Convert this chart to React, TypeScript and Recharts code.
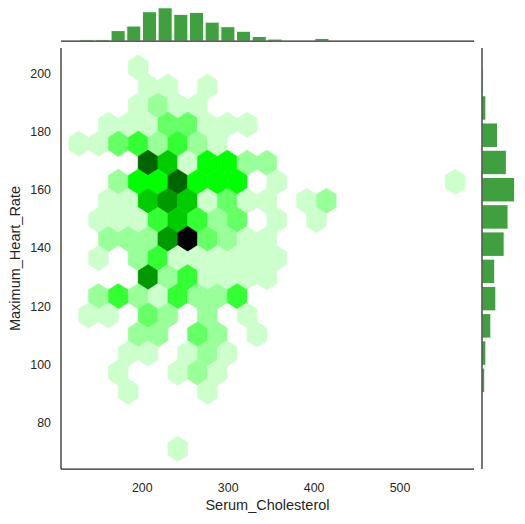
import { ScatterChart, Scatter, XAxis, YAxis, BarChart, Bar, ReferenceLine, Label } from 'recharts'

// hexbin grid: serum cholesterol 126..564, max heart rate 71..202, gridsize 19 x 10
const X_MIN = 126
const X_MAX = 564
const Y_MIN = 71
const Y_MAX = 202
const GRID_NX = 19
const GRID_NY = 10

const X_DOMAIN: [number, number] = [105.4, 586.1]
const Y_DOMAIN: [number, number] = [64.05, 208.7]
const xTicks = [200, 300, 400, 500]
const yTicks = [80, 100, 120, 140, 160, 180, 200]

// hex cells: half-step column / row index on the hexbin lattice, and point count
const hexCol = [
  6,
  7, 9, 13,
  6, 8, 10, 12,
  3, 5, 7, 9, 11, 13, 15, 17,
  0, 2, 4, 6, 8, 10, 12, 14,
  7, 9, 11, 13, 15, 17, 19,
  4, 6, 8, 10, 12, 14, 16, 20, 38,
  3, 5, 7, 9, 11, 13, 15, 17, 19, 23, 25,
  2, 4, 6, 8, 10, 12, 14, 16, 20, 24,
  3, 5, 7, 9, 11, 13, 15, 17, 19,
  2, 6, 8, 10, 12, 14, 16, 18, 20,
  7, 9, 11, 13, 15, 17, 19,
  2, 4, 6, 8, 10, 12, 14, 16,
  1, 3, 7, 9, 13, 17,
  6, 8, 12, 14, 18,
  5, 7, 11, 13, 15,
  4, 10, 12, 14,
  5, 13,
  10,
]
const hexRow = [
  20,
  19, 19, 19,
  18, 18, 18, 18,
  17, 17, 17, 17, 17, 17, 17, 17,
  16, 16, 16, 16, 16, 16, 16, 16,
  15, 15, 15, 15, 15, 15, 15,
  14, 14, 14, 14, 14, 14, 14, 14, 14,
  13, 13, 13, 13, 13, 13, 13, 13, 13, 13, 13,
  12, 12, 12, 12, 12, 12, 12, 12, 12, 12,
  11, 11, 11, 11, 11, 11, 11, 11, 11,
  10, 10, 10, 10, 10, 10, 10, 10, 10,
  9, 9, 9, 9, 9, 9, 9,
  8, 8, 8, 8, 8, 8, 8, 8,
  7, 7, 7, 7, 7, 7,
  6, 6, 6, 6, 6,
  5, 5, 5, 5, 5,
  4, 4, 4, 4,
  3, 3,
  0,
]
const hexCount = [
  2,
  2, 2, 2,
  2, 3, 2, 2,
  2, 2, 2, 4, 4, 2, 2, 2,
  2, 2, 4, 5, 3, 5, 3, 2,
  9, 7, 2, 6, 6, 3, 3,
  3, 6, 6, 9, 6, 6, 6, 2, 2,
  2, 2, 7, 8, 7, 2, 4, 2, 2, 2, 3,
  2, 2, 2, 5, 7, 5, 3, 4, 2, 2,
  3, 3, 3, 8, 11, 4, 3, 2, 2,
  2, 3, 5, 2, 2, 2, 2, 2, 2,
  8, 3, 5, 2, 2, 2, 2,
  3, 5, 3, 2, 5, 3, 3, 5,
  2, 2, 4, 3, 3, 2,
  3, 3, 4, 3, 2,
  2, 2, 2, 3, 2,
  2, 2, 3, 2,
  2, 2,
  2,
]
const MAX_COUNT = 11

// marginal histograms
const cholCounts = [2, 2, 16, 23, 45, 51, 41, 44, 29, 22, 15, 7, 3, 0, 0, 4, 0, 0, 0, 0, 0, 0, 0, 1]
const hrCounts = [1, 0, 5, 7, 16, 25, 23, 40, 47, 59, 44, 28, 7, 2]

const PLOT_LEFT = 61
const PLOT_RIGHT = 474
const PLOT_TOP = 48
const PLOT_BOTTOM = 469
const pxPerX = (PLOT_RIGHT - PLOT_LEFT) / (X_DOMAIN[1] - X_DOMAIN[0])
const pxPerY = (PLOT_BOTTOM - PLOT_TOP) / (Y_DOMAIN[1] - Y_DOMAIN[0])

const sx = (X_MAX - X_MIN) / GRID_NX
const sy = (Y_MAX - Y_MIN) / GRID_NY

const hexData = hexCol.map((c, i) => ({
  x: X_MIN + (c * sx) / 2,
  y: Y_MIN + (hexRow[i] * sy) / 2,
  count: hexCount[i],
}))

const cholBinW = (X_MAX - X_MIN) / cholCounts.length
const cholHist = cholCounts.map((count, i) => ({ mid: X_MIN + (i + 0.5) * cholBinW, count }))
const hrBinW = (Y_MAX - Y_MIN) / hrCounts.length
const hrHist = hrCounts.map((count, i) => ({ mid: Y_MIN + (i + 0.5) * hrBinW, count }))

const INK = '#262626'
const HIST = '#40a040'

function hexColor(count: number) {
  const l = 1 - (count - 1) / (MAX_COUNT - 1)
  return `hsl(120, 100%, ${(l * 100).toFixed(1)}%)`
}

function Hex(props: any) {
  const { cx, cy } = props
  const count = props.payload?.count ?? props.count
  const w = (sx * pxPerX) / 2
  const h = sy * pxPerY
  const pts = [
    [w, -h / 6],
    [w, h / 6],
    [0, h / 3],
    [-w, h / 6],
    [-w, -h / 6],
    [0, -h / 3],
  ]
    .map(([dx, dy]) => `${cx + dx},${cy + dy}`)
    .join(' ')
  const col = hexColor(count)
  return <polygon points={pts} fill={col} stroke={col} strokeWidth={0.5} />
}

export default function App() {
  return (
    <div
      style={{
        position: 'absolute',
        left: 0,
        top: 0,
        width: 525,
        height: 524,
        background: '#fff',
        fontFamily: '"Liberation Sans", Arial, sans-serif',
      }}
    >
      <div style={{ position: 'absolute', left: 0, top: 0 }}>
        <ScatterChart width={525} height={524} margin={{ top: PLOT_TOP, right: 525 - PLOT_RIGHT, bottom: 0, left: 0 }}>
          <XAxis
            type="number"
            dataKey="x"
            domain={X_DOMAIN}
            ticks={xTicks}
            height={524 - PLOT_BOTTOM}
            tickLine={false}
            tickMargin={8}
            axisLine={{ stroke: INK, strokeWidth: 1.25 }}
            tick={{ fill: INK, fontSize: 12.4 }}
          >
            <Label value="Serum_Cholesterol" position="insideBottom" offset={14} fill={INK} fontSize={14.5} />
          </XAxis>
          <YAxis
            type="number"
            dataKey="y"
            domain={Y_DOMAIN}
            ticks={yTicks}
            width={PLOT_LEFT}
            tickLine={false}
            tickMargin={4}
            axisLine={{ stroke: INK, strokeWidth: 1.25 }}
            tick={{ fill: INK, fontSize: 12.4 }}
          >
            <Label
              value="Maximum_Heart_Rate"
              angle={-90}
              position="insideLeft"
              offset={15}
              fill={INK}
              fontSize={14.5}
              style={{ textAnchor: 'middle' }}
            />
          </YAxis>
          <Scatter data={hexData} shape={Hex} isAnimationActive={false} />
        </ScatterChart>
      </div>

      <div style={{ position: 'absolute', left: 0, top: 0 }}>
        <BarChart
          width={525}
          height={44}
          data={cholHist}
          margin={{ top: 0, right: 525 - PLOT_RIGHT, bottom: 3, left: PLOT_LEFT }}
          barCategoryGap={0}
          barGap={0}
        >
          <XAxis type="number" dataKey="mid" domain={X_DOMAIN} hide />
          <YAxis type="number" domain={[0, 63]} hide />
          <Bar
            dataKey="count"
            fill={HIST}
            stroke="#ffffff"
            strokeWidth={1}
            barSize={cholBinW * pxPerX}
            isAnimationActive={false}
          />
          <ReferenceLine y={0} stroke={INK} strokeWidth={1.25} />
        </BarChart>
      </div>

      <div style={{ position: 'absolute', left: 478, top: 0 }}>
        <BarChart
          layout="vertical"
          width={47}
          height={524}
          data={hrHist}
          margin={{ top: PLOT_TOP, right: 0, bottom: 524 - PLOT_BOTTOM, left: 4 }}
          barCategoryGap={0}
          barGap={0}
        >
          <XAxis type="number" domain={[0, 77.6]} hide />
          <YAxis type="number" dataKey="mid" domain={Y_DOMAIN} reversed hide />
          <Bar
            dataKey="count"
            fill={HIST}
            stroke="#ffffff"
            strokeWidth={1}
            barSize={hrBinW * pxPerY}
            isAnimationActive={false}
          />
          <ReferenceLine x={0} stroke={INK} strokeWidth={1.25} />
        </BarChart>
      </div>
    </div>
  )
}
